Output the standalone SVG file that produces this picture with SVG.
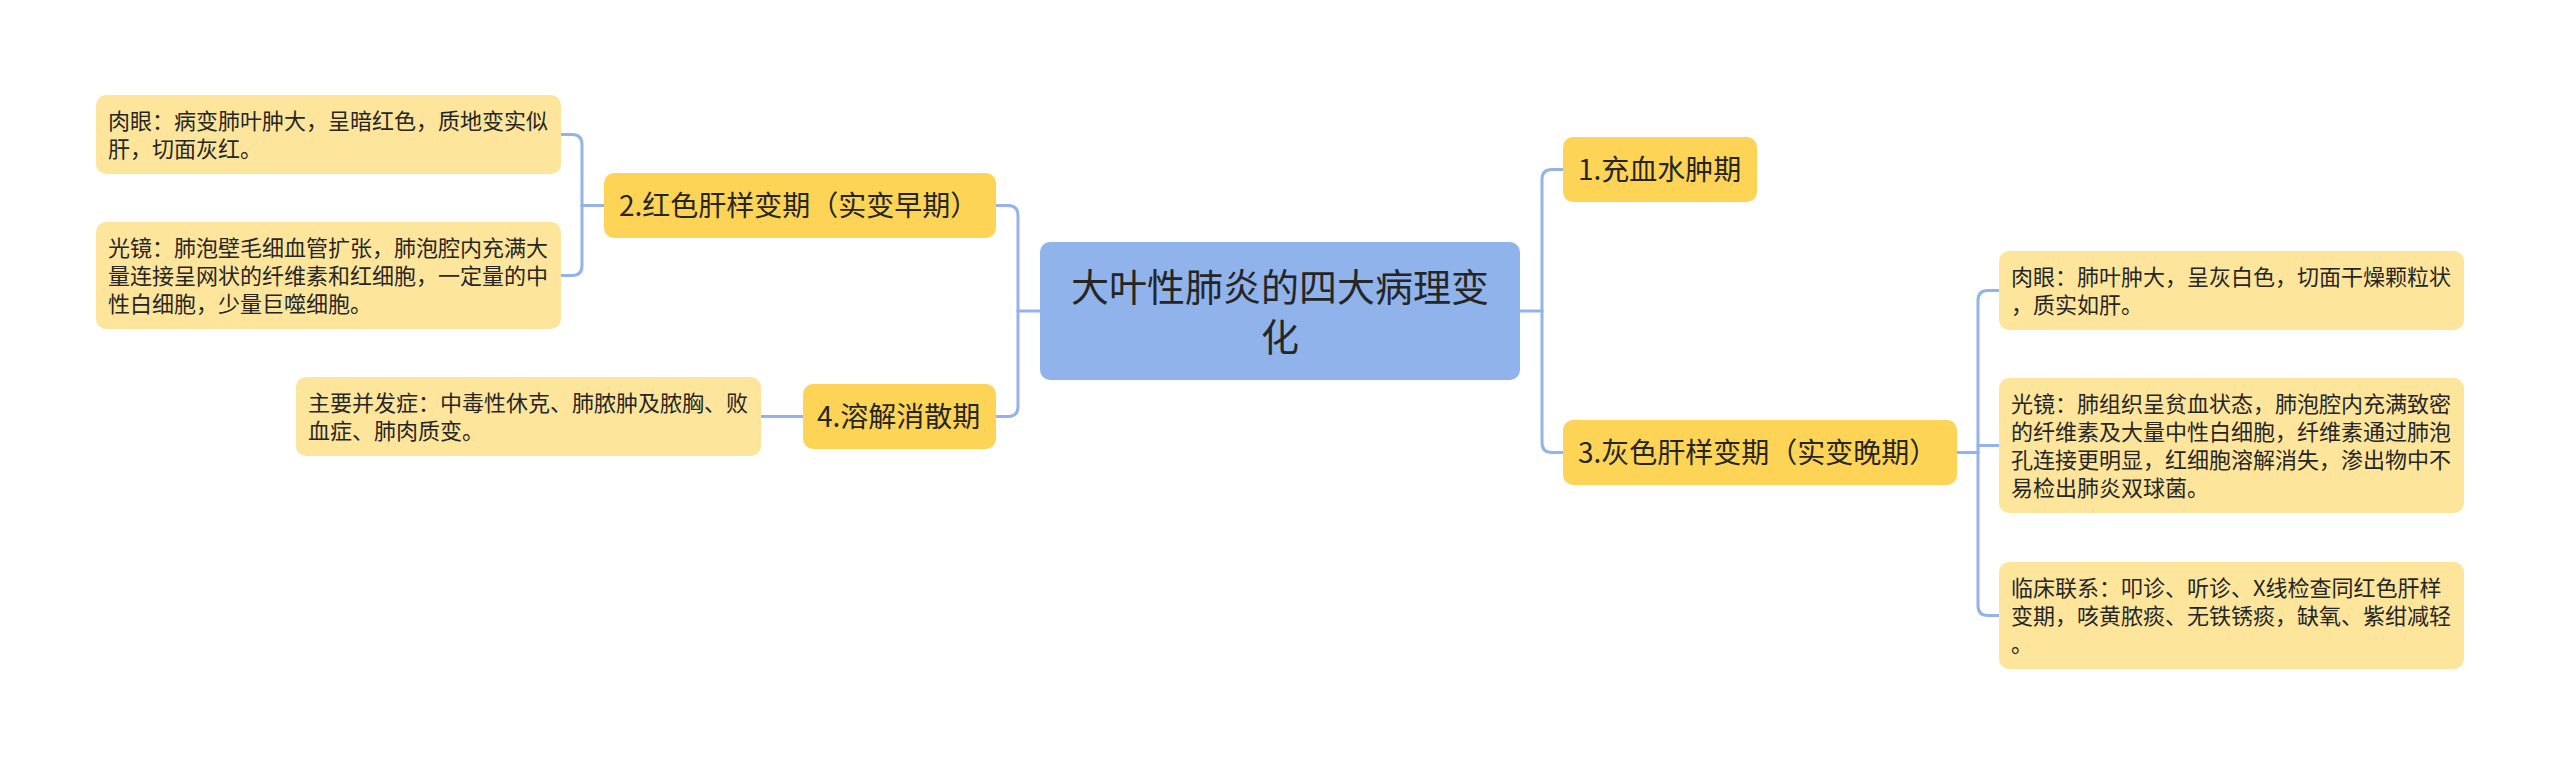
<svg xmlns="http://www.w3.org/2000/svg" width="2560" height="765" viewBox="0 0 2560 765">
<style>
.root{fill:#90b3eb}
.main{fill:#fed457}
.leaf{fill:#fee59c}
.t{font-family:"Noto Sans CJK SC","Noto Sans",sans-serif;fill:#262626}
.tc{font-size:38px;text-anchor:middle}
.tm{font-size:28px}
.tl{font-size:22px}
.con{fill:none;stroke:#93b3e9;stroke-width:3;stroke-linecap:round;stroke-linejoin:round}
</style>
<rect width="2560" height="765" fill="#ffffff"/>
<g id="connectors" class="con">
<path d="M1040,311 H1018"/>
<path d="M1018,311 V215.5 Q1018,205.5 1008,205.5 H996"/>
<path d="M1018,311 V406.5 Q1018,416.5 1008,416.5 H996"/>
<path d="M1520,311 H1542"/>
<path d="M1542,311 V179.5 Q1542,169.5 1552,169.5 H1563"/>
<path d="M1542,311 V442.5 Q1542,452.5 1552,452.5 H1563"/>
<path d="M604,205.5 H582"/>
<path d="M582,205.5 V144.5 Q582,134.5 572,134.5 H561"/>
<path d="M582,205.5 V265.5 Q582,275.5 572,275.5 H561"/>
<path d="M803,416.5 H761"/>
<path d="M1957,452.5 H1978"/>
<path d="M1978,452.5 V300.5 Q1978,290.5 1988,290.5 H1999"/>
<path d="M1978,445.5 H1999"/>
<path d="M1978,452.5 V605.5 Q1978,615.5 1988,615.5 H1999"/>
</g>
<g id="center">
<rect class="root" x="1040" y="242" width="480" height="138" rx="10"/>
<text class="t tc" x="1280" y="301">大叶性肺炎的四大病理变</text>
<text class="t tc" x="1280" y="351">化</text>
</g>
<g id="n1">
<rect class="main" x="1563" y="137" width="194" height="65" rx="10"/>
<text class="t tm" x="1578" y="180">1.充血水肿期</text>
</g>
<g id="n2">
<rect class="main" x="604" y="173" width="392" height="65" rx="10"/>
<text class="t tm" x="619" y="216">2.红色肝样变期（实变早期）</text>
</g>
<g id="n3">
<rect class="main" x="1563" y="420" width="394" height="65" rx="10"/>
<text class="t tm" x="1578" y="463">3.灰色肝样变期（实变晚期）</text>
</g>
<g id="n4">
<rect class="main" x="803" y="384" width="193" height="65" rx="10"/>
<text class="t tm" x="817" y="427">4.溶解消散期</text>
</g>
<g id="l1">
<rect class="leaf" x="96" y="95" width="465" height="79" rx="10"/>
<text class="t tl" x="108" y="128.5">肉眼：病变肺叶肿大，呈暗红色，质地变实似</text>
<text class="t tl" x="108" y="156.5">肝，切面灰红。</text>
</g>
<g id="l2">
<rect class="leaf" x="96" y="222" width="465" height="107" rx="10"/>
<text class="t tl" x="108" y="255.5">光镜：肺泡壁毛细血管扩张，肺泡腔内充满大</text>
<text class="t tl" x="108" y="283.5">量连接呈网状的纤维素和红细胞，一定量的中</text>
<text class="t tl" x="108" y="311.5">性白细胞，少量巨噬细胞。</text>
</g>
<g id="l3">
<rect class="leaf" x="296" y="377" width="465" height="79" rx="10"/>
<text class="t tl" x="308" y="410.5">主要并发症：中毒性休克、肺脓肿及脓胸、败</text>
<text class="t tl" x="308" y="438.5">血症、肺肉质变。</text>
</g>
<g id="r1">
<rect class="leaf" x="1999" y="251" width="465" height="79" rx="10"/>
<text class="t tl" x="2011" y="284.5">肉眼：肺叶肿大，呈灰白色，切面干燥颗粒状</text>
<text class="t tl" x="2011" y="312.5">，质实如肝。</text>
</g>
<g id="r2">
<rect class="leaf" x="1999" y="378" width="465" height="135" rx="10"/>
<text class="t tl" x="2011" y="411.5">光镜：肺组织呈贫血状态，肺泡腔内充满致密</text>
<text class="t tl" x="2011" y="439.5">的纤维素及大量中性白细胞，纤维素通过肺泡</text>
<text class="t tl" x="2011" y="467.5">孔连接更明显，红细胞溶解消失，渗出物中不</text>
<text class="t tl" x="2011" y="495.5">易检出肺炎双球菌。</text>
</g>
<g id="r3">
<rect class="leaf" x="1999" y="562" width="465" height="107" rx="10"/>
<text class="t tl" x="2011" y="595.5">临床联系：叩诊、听诊、X线检查同红色肝样</text>
<text class="t tl" x="2011" y="623.5">变期，咳黄脓痰、无铁锈痰，缺氧、紫绀减轻</text>
<text class="t tl" x="2011" y="651.5">。</text>
</g>
</svg>
